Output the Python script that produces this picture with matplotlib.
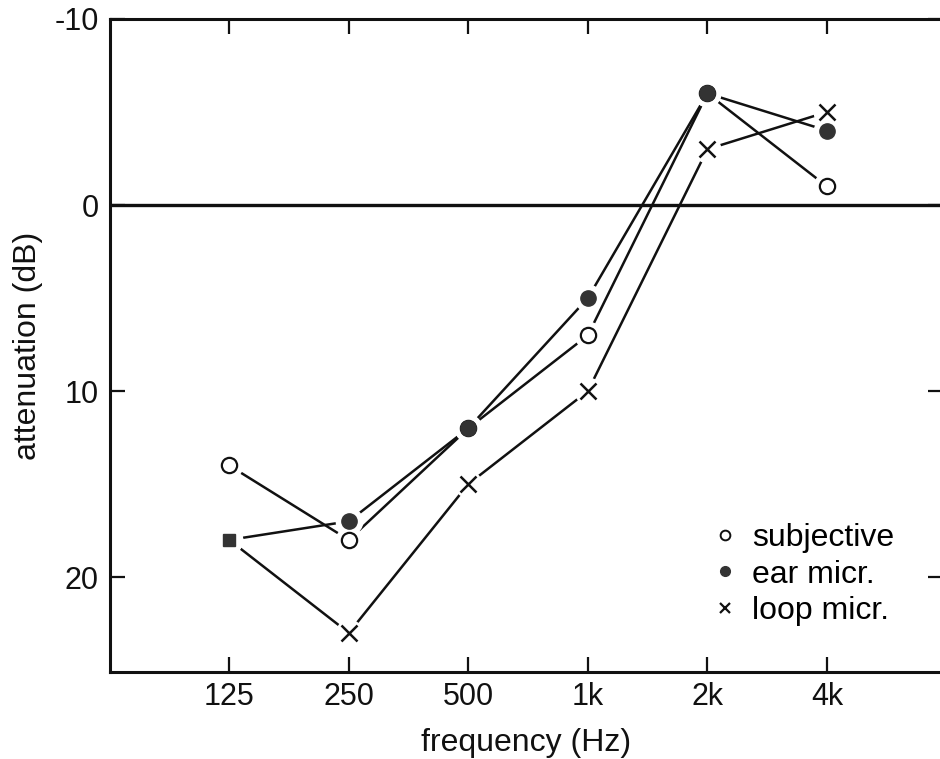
import matplotlib
matplotlib.use("Agg")
import matplotlib.pyplot as plt
from matplotlib.lines import Line2D

plt.rcParams['font.family'] = ['Liberation Sans', 'DejaVu Sans']

freqs = [125, 250, 500, 1000, 2000, 4000]
freq_labels = ['125', '250', '500', '1k', '2k', '4k']
subjective = [14, 18, 12, 7, -6, -1]
ear_micr = [18, 17, 12, 5, -6, -4]
loop_micr = [18, 23, 15, 10, -3, -5]
y_ticks = [-10, 0, 10, 20]
y_tick_labels = ['-10', '0', '10', '20']
legend_labels = ['subjective', 'ear micr.', 'loop micr.']

fig = plt.figure(figsize=(9.4, 7.59), dpi=100)
ax = fig.add_axes([110/940, 1-672/759, (943-110)/940, (672-19)/759])
ax.set_xscale('log')
ax.set_xlim(62.6, 7840)
ax.set_ylim(25.1, -10)

lw = 1.8
ms = 11
halo = 19
ink = '#111111'
fill = '#333333'

# connecting lines
for vals in (subjective, ear_micr, loop_micr):
    ax.plot(freqs, vals, color=ink, lw=lw, zorder=2, solid_capstyle='butt')
# white gaps around the markers
for vals in (subjective, ear_micr, loop_micr):
    ax.plot(freqs, vals, ls='none', marker='o', ms=halo, mfc='white', mec='white', zorder=3)
# markers
ax.plot(freqs, subjective, ls='none', marker='o', ms=ms, mfc='white', mec=ink, mew=1.6, zorder=4)
ax.plot(freqs[1:], ear_micr[1:], ls='none', marker='o', ms=ms, mfc=fill, mec=fill, mew=1.0, zorder=4)
ax.plot(freqs[1:], loop_micr[1:], ls='none', marker='x', ms=ms, mec=ink, mew=1.8, zorder=4)
# coinciding ear / loop point at 125 Hz appears as a filled square
ax.plot(freqs[:1], ear_micr[:1], ls='none', marker='s', ms=9, mfc=fill, mec=fill, zorder=5)

ax.axhline(0, color=ink, lw=2.4, zorder=1)

for s in ax.spines.values():
    s.set_linewidth(2.2)
    s.set_color(ink)

ax.set_xticks(freqs)
ax.set_xticklabels(freq_labels)
ax.minorticks_off()
ax.set_yticks(y_ticks)
ax.set_yticklabels(y_tick_labels)
ax.tick_params(axis='both', direction='in', length=11, width=1.6, color=ink,
               top=True, right=True, labelcolor=ink)
ax.tick_params(axis='x', labelsize=22, pad=7)
ax.tick_params(axis='y', labelsize=22, pad=8)

ax.set_xlabel('frequency (Hz)', fontsize=23, labelpad=12, color=ink)
ax.set_ylabel('attenuation (dB)', fontsize=23, labelpad=8, color=ink)

handles = [
    Line2D([], [], ls='none', marker='o', ms=7, mfc='white', mec=ink, mew=1.4),
    Line2D([], [], ls='none', marker='o', ms=7, mfc=fill, mec=fill),
    Line2D([], [], ls='none', marker='x', ms=6.5, mec=ink, mew=1.6),
]
leg = ax.legend(handles, legend_labels, frameon=False,
                fontsize=23, loc='upper left', bbox_to_anchor=(0.729, 0.228),
                handlelength=0.5, handletextpad=0.6, labelspacing=0.2,
                borderaxespad=0, borderpad=0)

fig.savefig('out.png', dpi=100)
